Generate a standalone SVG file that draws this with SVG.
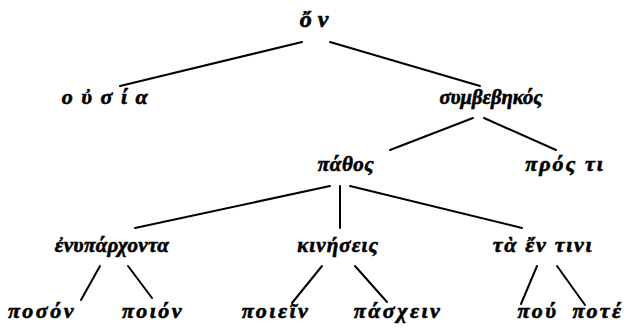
<svg xmlns="http://www.w3.org/2000/svg" width="626" height="329" viewBox="0 0 626 329">
<style>
.t{font-family:"Liberation Serif","DejaVu Serif",serif;font-weight:bold;font-style:italic;fill:#000;stroke:#000;stroke-width:0.6;text-anchor:middle}
.a{font-size:24px;letter-spacing:6px}
.b{font-size:22px}
.c{font-size:21px}
.d{font-size:22px;letter-spacing:2.5px}
.e line{stroke:#000;stroke-width:2;stroke-linecap:round}
</style>
<rect width="626" height="329" fill="#fff"/>
<g class="e" id="edges">
<line x1="302" y1="42" x2="120" y2="86"/>
<line x1="330" y1="42" x2="480" y2="86"/>
<line x1="473" y1="118" x2="390" y2="150"/>
<line x1="484" y1="118" x2="556" y2="150"/>
<line x1="330" y1="186" x2="135" y2="228"/>
<line x1="340" y1="186" x2="340" y2="228"/>
<line x1="350" y1="186" x2="522" y2="228"/>
<line x1="100" y1="266" x2="81" y2="300"/>
<line x1="128" y1="266" x2="152" y2="298"/>
<line x1="322" y1="266" x2="292" y2="303"/>
<line x1="355" y1="266" x2="387" y2="302"/>
<line x1="537" y1="266" x2="521" y2="304"/>
<line x1="557" y1="266" x2="585" y2="305"/>
</g>
<g id="on"><text class="t a" x="317" y="27">ὄν</text></g>
<g id="ousia"><text class="t b" x="109" y="104" letter-spacing="8.5">οὐσία</text></g>
<g id="symbebekos"><text class="t b" x="491" y="104" style="font-size:20.5px">συμβεβηκός</text></g>
<g id="pathos"><text class="t c" x="346" y="171" letter-spacing="0.5">πάθος</text></g>
<g id="pros_ti"><text class="t b" x="565" y="171" letter-spacing="2">πρός τι</text></g>
<g id="enyparchonta"><text class="t c" x="112" y="252" letter-spacing="0.3">ἐνυπάρχοντα</text></g>
<g id="kineseis"><text class="t c" x="338" y="252" letter-spacing="1.1">κινήσεις</text></g>
<g id="ta_en_tini"><text class="t b" x="543" y="252" letter-spacing="1.7">τὰ ἔν τινι</text></g>
<g id="poson"><text class="t d" x="42" y="318">ποσόν</text></g>
<g id="poion"><text class="t d" x="153" y="318">ποιόν</text></g>
<g id="poiein"><text class="t d" x="276" y="318">ποιεῖν</text></g>
<g id="paschein"><text class="t d" x="398" y="318">πάσχειν</text></g>
<g id="pou"><text class="t d" x="538" y="318">πού</text></g>
<g id="pote"><text class="t d" x="598" y="318">ποτέ</text></g>
</svg>
